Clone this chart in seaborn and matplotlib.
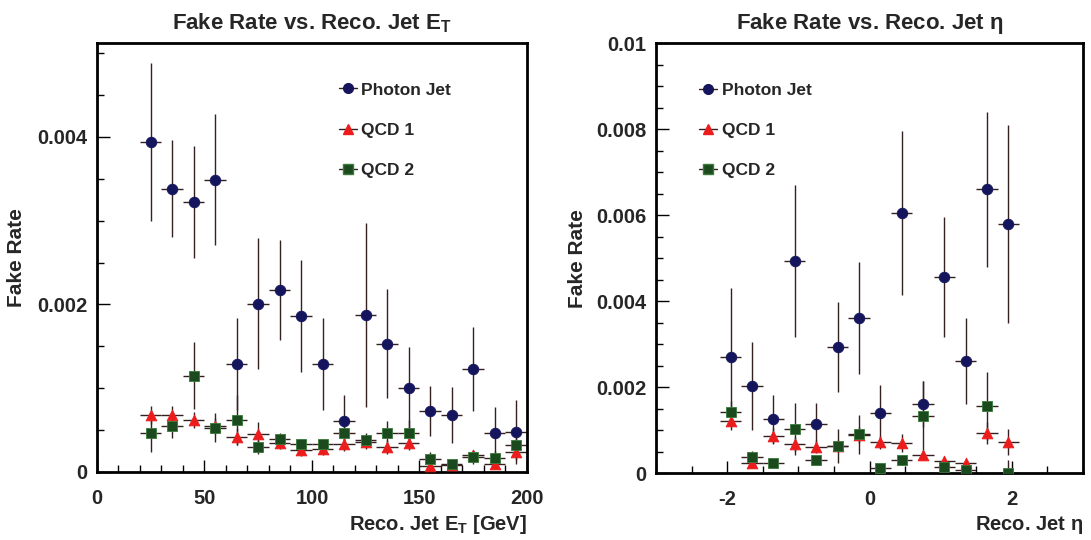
import numpy as np
import pandas as pd
import matplotlib
matplotlib.use("Agg")
import matplotlib.pyplot as plt
from matplotlib.lines import Line2D
from matplotlib.ticker import MultipleLocator
import seaborn as sns

# ---------------- data ----------------
et_centers = [25, 35, 45, 55, 65, 75, 85, 95, 105, 115, 125, 135, 145, 155, 165, 175, 185, 195]
et_halfwidth = 5
photon_et = [0.00394, 0.00338, 0.00322, 0.00349, 0.00129, 0.00201, 0.00217, 0.00186, 0.00129,
             0.00061, 0.00187, 0.00153, 0.00100, 0.00073, 0.00068, 0.00123, 0.00047, 0.00048]
photon_et_err = [0.00094, 0.00058, 0.00067, 0.00078, 0.00055, 0.00078, 0.00060, 0.00067, 0.00055,
                 0.00031, 0.00110, 0.00065, 0.00049, 0.00030, 0.00034, 0.00050, 0.00031, 0.00038]
qcd1_et = [0.00068, 0.00068, 0.00062, 0.00055, 0.00042, 0.00045, 0.00035, 0.00026, 0.00027,
           0.00033, 0.00036, 0.00030, 0.00034, 0.00007, 0.00008, 0.00020, 0.00010, 0.00024]
qcd1_et_err = [0.00011, 0.00011, 0.00010, 0.00010, 0.00010, 0.00015, 0.00008, 0.00007, 0.00007,
               0.00008, 0.00008, 0.00008, 0.00008, 0.00004, 0.00005, 0.00006, 0.00005, 0.00010]
qcd2_et = [0.00047, 0.00055, 0.00115, 0.00053, 0.00062, 0.00030, 0.00039, 0.00033, 0.00033,
           0.00047, 0.00038, 0.00047, 0.00047, 0.00016, 0.00010, 0.00018, 0.00017, 0.00032]
qcd2_et_err = [0.00023, 0.00015, 0.00040, 0.00017, 0.00030, 0.00008, 0.00008, 0.00006, 0.00006,
               0.00012, 0.00008, 0.00014, 0.00015, 0.00008, 0.00006, 0.00008, 0.00008, 0.00010]

eta_centers = [-1.95, -1.65, -1.35, -1.05, -0.75, -0.45, -0.15, 0.15, 0.45, 0.75, 1.05, 1.35, 1.65, 1.95]
eta_halfwidth = 0.15
photon_eta = [0.00270, 0.00202, 0.00126, 0.00493, 0.00114, 0.00293, 0.00360,
              0.00140, 0.00605, 0.00160, 0.00456, 0.00260, 0.00660, 0.00579]
photon_eta_err = [0.00160, 0.00102, 0.00055, 0.00177, 0.00049, 0.00105, 0.00130,
                  0.00064, 0.00190, 0.00053, 0.00140, 0.00100, 0.00180, 0.00230]
qcd1_eta = [0.00121, 0.00023, 0.00086, 0.00067, 0.00061, 0.00063, 0.00088,
            0.00072, 0.00070, 0.00042, 0.00028, 0.00023, 0.00093, 0.00072]
qcd1_eta_err = [0.00020, 0.00010, 0.00018, 0.00016, 0.00015, 0.00015, 0.00018,
                0.00015, 0.00020, 0.00012, 0.00008, 0.00008, 0.00025, 0.00030]
qcd2_eta = [0.00142, 0.00037, 0.00023, 0.00102, 0.00030, 0.00063, 0.00090,
            0.00012, 0.00030, 0.00133, 0.00014, 0.00007, 0.00156, 0.00000]
qcd2_eta_err = [0.00025, 0.00015, 0.00008, 0.00060, 0.00010, 0.00040, 0.00045,
                0.00010, 0.00012, 0.00080, 0.00010, 0.00008, 0.00080, 0.00030]

series_names = ["Photon Jet", "QCD 1", "QCD 2"]
et_ticks = [0, 50, 100, 150, 200]
et_ticklabels = ["0", "50", "100", "150", "200"]
eta_ticks = [-2, 0, 2]
eta_ticklabels = ["-2", "0", "2"]
left_yticks = [0, 0.002, 0.004]
left_yticklabels = ["0", "0.002", "0.004"]
right_yticks = [0, 0.002, 0.004, 0.006, 0.008, 0.01]
right_yticklabels = ["0", "0.002", "0.004", "0.006", "0.008", "0.01"]

# ---------------- style ----------------
sns.set_theme(style="ticks")
plt.rcParams["font.family"] = ["Liberation Sans", "DejaVu Sans"]
plt.rcParams["mathtext.fontset"] = "custom"
plt.rcParams["mathtext.rm"] = "Liberation Sans:bold"
plt.rcParams["mathtext.it"] = "Liberation Sans:bold"

NAVY = "#15155e"
RED = "#ec1c1c"
GREEN = "#1b4a1e"
BAR = "#33201f"
markers = ["o", "^", "s"]
colors = [NAVY, RED, GREEN]
edges = [NAVY, RED, "#3a7a3a"]
sizes = [58, 60, 48]

fig = plt.figure(figsize=(10.91, 5.40), dpi=100)
ax1 = fig.add_axes([0.0889, 0.126, 0.3941, 0.794])
ax2 = fig.add_axes([0.6013, 0.124, 0.3914, 0.796])


def draw(ax, x, ys, errs, xerr):
    for y, e, m, c, ec, s in zip(ys, errs, markers, colors, edges, sizes):
        ax.errorbar(x, y, yerr=e, xerr=xerr, fmt="none", ecolor=BAR, elinewidth=1.0,
                    capsize=0, zorder=2)
        df = pd.DataFrame({"x": x, "y": y})
        sns.scatterplot(data=df, x="x", y="y", marker=m, color=c, edgecolor=ec,
                        linewidth=0.6, s=s, ax=ax, zorder=3, legend=False)


draw(ax1, et_centers, [photon_et, qcd1_et, qcd2_et],
     [photon_et_err, qcd1_et_err, qcd2_et_err], et_halfwidth)
draw(ax2, eta_centers, [photon_eta, qcd1_eta, qcd2_eta],
     [photon_eta_err, qcd1_eta_err, qcd2_eta_err], eta_halfwidth)

fw = "bold"
for ax in (ax1, ax2):
    for sp in ax.spines.values():
        sp.set_linewidth(2.0)
        sp.set_color("black")
    ax.tick_params(axis="both", which="major", direction="in", length=9, width=1.0,
                   top=False, right=False, labelsize=14.5, color="black")
    ax.tick_params(axis="y", which="major", pad=7)
    ax.tick_params(axis="x", which="major", pad=12)
    ax.tick_params(axis="both", which="minor", direction="in", length=5, width=1.0,
                   top=False, right=False, color="black")
    ax.set_ylabel("Fake Rate", fontsize=15, fontweight=fw)

ax1.set_xlim(0, 200)
ax1.set_ylim(0, 0.00512)
ax1.set_xticks(et_ticks, et_ticklabels, fontweight=fw)
ax1.set_yticks(left_yticks, left_yticklabels, fontweight=fw)
ax1.xaxis.set_minor_locator(MultipleLocator(10))
ax1.yaxis.set_minor_locator(MultipleLocator(0.0005))
ax1.set_title(r"Fake Rate vs. Reco. Jet E$_\mathrm{T}$", fontsize=16, fontweight=fw, pad=10)
ax1.set_xlabel(r"Reco. Jet E$_\mathrm{T}$ [GeV]", fontsize=14.5, fontweight=fw)
ax1.xaxis.set_label_coords(1.0, -0.096)
ax1.xaxis.label.set_horizontalalignment("right")
ax1.yaxis.set_label_coords(-0.165, 0.5)

ax2.set_xlim(-3, 3)
ax2.set_ylim(0, 0.01)
ax2.set_xticks(eta_ticks, eta_ticklabels, fontweight=fw)
ax2.set_yticks(right_yticks, right_yticklabels, fontweight=fw)
ax2.xaxis.set_minor_locator(MultipleLocator(0.5))
ax2.yaxis.set_minor_locator(MultipleLocator(0.0005))
ax2.set_title(r"Fake Rate vs. Reco. Jet $\eta$", fontsize=16, fontweight=fw, pad=10)
ax2.set_xlabel(r"Reco. Jet $\eta$", fontsize=14.5, fontweight=fw)
ax2.xaxis.set_label_coords(1.0, -0.096)
ax2.xaxis.label.set_horizontalalignment("right")
ax2.yaxis.set_label_coords(-0.161, 0.5)

handles = [Line2D([], [], color=BAR, lw=1.0, marker=m, markersize=7, markerfacecolor=c,
                  markeredgecolor=ec) for m, c, ec in zip(markers, colors, edges)]
for ax, anchor in ((ax1, (0.526, 0.945)), (ax2, (0.064, 0.945))):
    ax.legend(handles, series_names, loc="upper left", bbox_to_anchor=anchor,
              frameon=False, handlelength=1.05, handletextpad=0.25, labelspacing=1.45,
              prop={"size": 12.5, "weight": fw})

fig.savefig("out.png", dpi=100)
